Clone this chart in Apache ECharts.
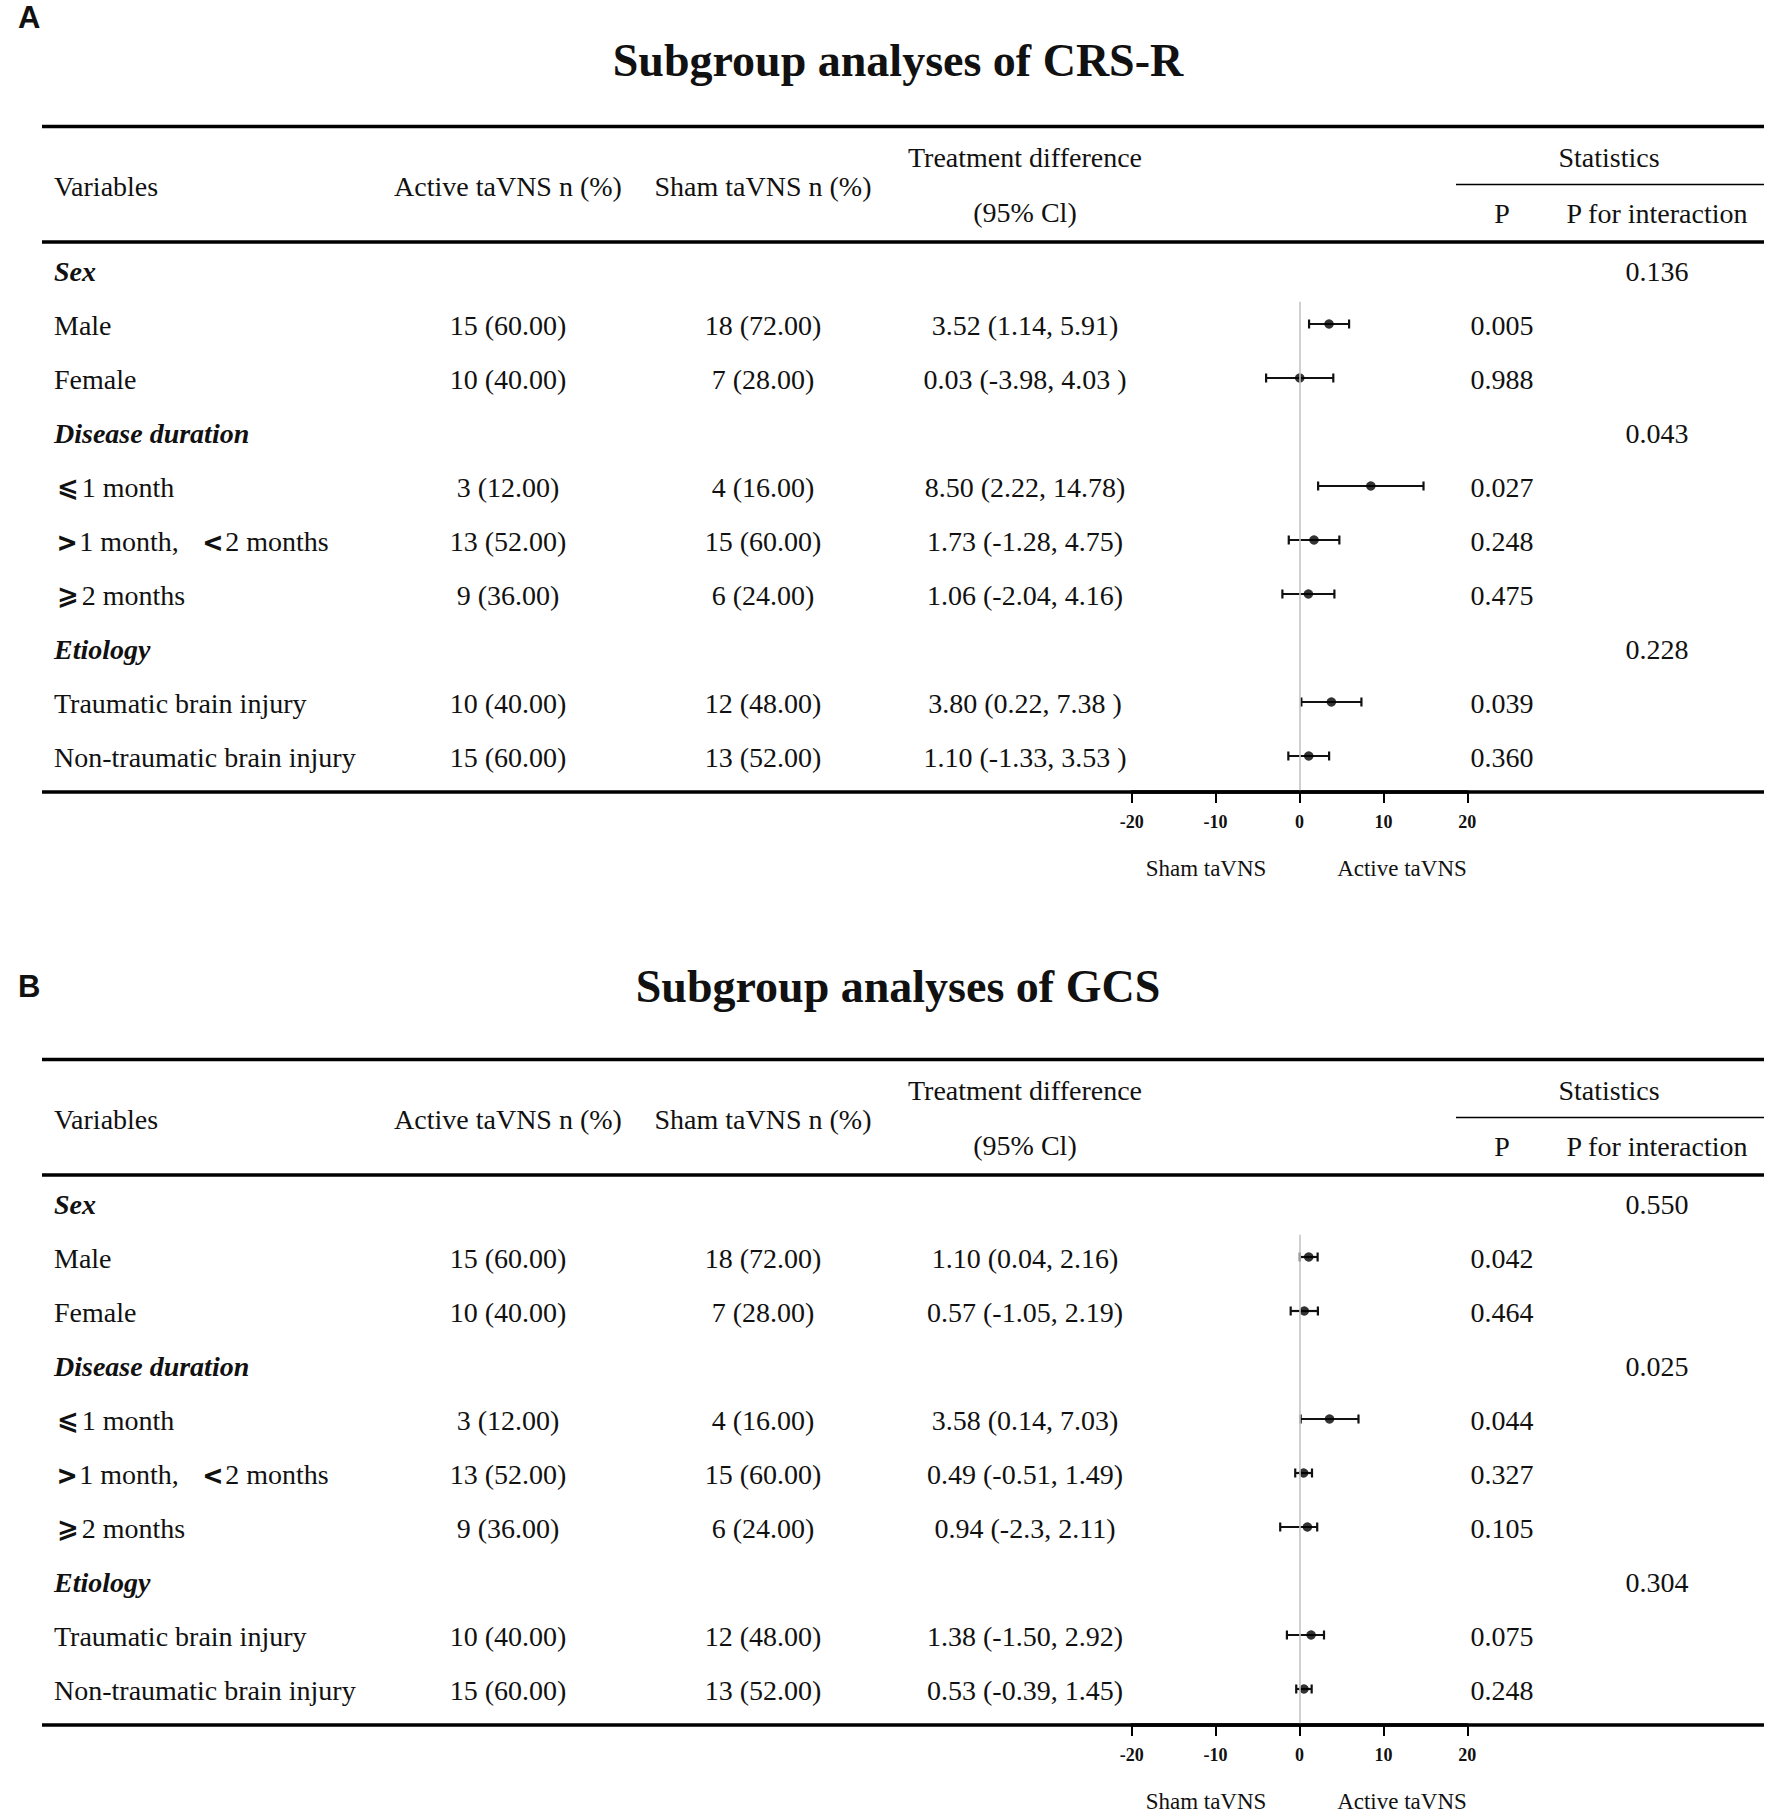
<!DOCTYPE html>
<html>
<head>
<meta charset="utf-8">
<script src="https://cdn.jsdelivr.net/npm/echarts@6/dist/echarts.min.js"></script>
<style>
html,body{margin:0;padding:0;background:#fff;}
#chart{width:1772px;height:1815px;}
</style>
</head>
<body>
<div id="chart"></div>
<script>
// ---------- DATA ----------
const rowLabels = ['Sex', 'Male', 'Female', 'Disease duration', '⩽1 month', '＞1 month，＜2 months', '⩾2 months', 'Etiology', 'Traumatic brain injury', 'Non-traumatic brain injury'];
const rowIsGroup = [true, false, false, true, false, false, false, true, false, false];
const activeN = ['', '15 (60.00)', '10 (40.00)', '', '3 (12.00)', '13 (52.00)', '9 (36.00)', '', '10 (40.00)', '15 (60.00)'];
const shamN = ['', '18 (72.00)', '7 (28.00)', '', '4 (16.00)', '15 (60.00)', '6 (24.00)', '', '12 (48.00)', '13 (52.00)'];

const crsEst = [null, 3.52, 0.03, null, 8.50, 1.73, 1.06, null, 3.80, 1.10];
const crsLow = [null, 1.14, -3.98, null, 2.22, -1.28, -2.04, null, 0.22, -1.33];
const crsHigh = [null, 5.91, 4.03, null, 14.78, 4.75, 4.16, null, 7.38, 3.53];
const crsDiffText = ['', '3.52 (1.14, 5.91)', '0.03 (-3.98, 4.03 )', '', '8.50 (2.22, 14.78)', '1.73 (-1.28, 4.75)', '1.06 (-2.04, 4.16)', '', '3.80 (0.22, 7.38 )', '1.10 (-1.33, 3.53 )'];
const crsP = ['', '0.005', '0.988', '', '0.027', '0.248', '0.475', '', '0.039', '0.360'];
const crsPint = ['0.136', '', '', '0.043', '', '', '', '0.228', '', ''];

const gcsEst = [null, 1.10, 0.57, null, 3.58, 0.49, 0.94, null, 1.38, 0.53];
const gcsLow = [null, 0.04, -1.05, null, 0.14, -0.51, -2.3, null, -1.50, -0.39];
const gcsHigh = [null, 2.16, 2.19, null, 7.03, 1.49, 2.11, null, 2.92, 1.45];
const gcsDiffText = ['', '1.10 (0.04, 2.16)', '0.57 (-1.05, 2.19)', '', '3.58 (0.14, 7.03)', '0.49 (-0.51, 1.49)', '0.94 (-2.3, 2.11)', '', '1.38 (-1.50, 2.92)', '0.53 (-0.39, 1.45)'];
const gcsP = ['', '0.042', '0.464', '', '0.044', '0.327', '0.105', '', '0.075', '0.248'];
const gcsPint = ['0.550', '', '', '0.025', '', '', '', '0.304', '', ''];

const panelTitles = ['Subgroup analyses of CRS-R', 'Subgroup analyses of GCS'];
const panelLetters = ['A', 'B'];
const axisTicks = [-20, -10, 0, 10, 20];
const sideLabels = ['Sham taVNS', 'Active taVNS'];

// ---------- LAYOUT ----------
const SERIF = '"Liberation Serif", "Times New Roman", "Noto Sans CJK SC", serif';
const F = 28;
const PANEL_DY = 933;
const COL = {label: 54, active: 508, sham: 763, diff: 1025, p: 1502, pint: 1657};
const TEXT_COLOR = '#111';
const ROW_TEXT_DY = 2;

function txtStyle(text, x, y, align, font) {
  return {
    text: text, x: x, y: y,
    font: font,
    fill: TEXT_COLOR,
    align: align, textAlign: align,
    verticalAlign: 'middle', textVerticalAlign: 'middle'
  };
}

function hline(x1, x2, y, w) {
  return {type: 'line', silent: true, z: 10, shape: {x1: x1, y1: y, x2: x2, y2: y},
    style: {stroke: '#000', lineWidth: w}};
}

function text(t, x, y, align, font) {
  return {type: 'text', silent: true, style: txtStyle(t, x, y, align, font)};
}

const graphics = [];
[0, 1].forEach(function (k) {
  const dy = k * PANEL_DY;
  const titleY = k === 0 ? 60 : 986;
  const letterY = k === 0 ? 17 : 986;
  graphics.push(text(panelLetters[k], 18, letterY, 'left', 'bold 31px "Liberation Sans Narrow", "Liberation Sans", Arial, sans-serif'));
  graphics.push(text(panelTitles[k], 898, titleY, 'center', 'bold 46px ' + SERIF));
  graphics.push(hline(42, 1764, 126.5 + dy, 3.5));
  graphics.push(hline(42, 1764, 242 + dy, 3.5));
  graphics.push(hline(1456, 1764, 184.5 + dy, 1.5));
  graphics.push(hline(42, 1764, 792 + dy, 3.5));
  const hf = F + 'px ' + SERIF;
  graphics.push(text('Variables', COL.label, 186 + dy, 'left', hf));
  graphics.push(text('Active taVNS n (%)', COL.active, 186 + dy, 'center', hf));
  graphics.push(text('Sham taVNS n (%)', COL.sham, 186 + dy, 'center', hf));
  graphics.push(text('Treatment difference', COL.diff, 157 + dy, 'center', hf));
  graphics.push(text('(95% Cl)', COL.diff, 212 + dy, 'center', hf));
  graphics.push(text('Statistics', 1609, 157 + dy, 'center', hf));
  graphics.push(text('P', COL.p, 213 + dy, 'center', hf));
  graphics.push(text('P for interaction', COL.pint, 213 + dy, 'center', hf));
  graphics.push(text(sideLabels[0], 1206, 868 + dy, 'center', '23px ' + SERIF));
  graphics.push(text(sideLabels[1], 1402, 868 + dy, 'center', '23px ' + SERIF));
});

const SYM_RICH = {
  s: {font: 'bold 31px "Noto Sans CJK SC", "DejaVu Sans", sans-serif', fill: TEXT_COLOR, padding: [0, 3, 0, 4]},
  m: {font: 'bold 26px "Noto Sans CJK SC", "DejaVu Sans", sans-serif', fill: TEXT_COLOR, padding: [0, 3, 7, 3]}
};

function tableSeries(idx, diffText, pArr, pintArr) {
  return {
    type: 'custom', xAxisIndex: idx, yAxisIndex: idx, clip: false, silent: true, z: 5,
    data: rowLabels.map(function (_, i) { return [0, i]; }),
    renderItem: function (params, api) {
      const i = params.dataIndex;
      const y = api.coord([0, i])[1] + ROW_TEXT_DY;
      const f = F + 'px ' + SERIF;
      const children = [];
      const add = function (t, x, align, font) {
        if (t) children.push({type: 'text', style: txtStyle(t, x, y, align, font)});
      };
      // row label: comparison symbols drawn in a heavier sans face, like the source
      const lbl = rowLabels[i]
        .replace(/[⩽⩾]/g, function (m) { return '{m|' + m + '}'; })
        .replace(/[＞＜]/g, function (m) { return '{s|' + (m === '＞' ? '>' : '<') + '}'; })
        .replace('，', ',   ');
      const ls = txtStyle(lbl, COL.label, y, 'left', rowIsGroup[i] ? 'italic bold ' + F + 'px ' + SERIF : f);
      ls.rich = SYM_RICH;
      children.push({type: 'text', style: ls});
      add(activeN[i], COL.active, 'center', f);
      add(shamN[i], COL.sham, 'center', f);
      add(diffText[i], COL.diff, 'center', f);
      add(pArr[i], COL.p, 'center', f);
      add(pintArr[i], COL.pint, 'center', f);
      return {type: 'group', children: children};
    }
  };
}

function errorSeries(idx, est, low, high) {
  const data = [];
  est.forEach(function (v, i) { if (v !== null) data.push([low[i], high[i], i]); });
  return {
    type: 'custom', xAxisIndex: idx, yAxisIndex: idx, silent: true, z: 3,
    encode: {x: [0, 1], y: 2},
    data: data,
    renderItem: function (params, api) {
      const a = api.coord([api.value(0), api.value(2)]);
      const b = api.coord([api.value(1), api.value(2)]);
      const h = 4.5;
      const st = {stroke: '#111', lineWidth: 2.2};
      return {type: 'group', children: [
        {type: 'line', shape: {x1: a[0], y1: a[1], x2: b[0], y2: b[1]}, style: st},
        {type: 'line', shape: {x1: a[0], y1: a[1] - h, x2: a[0], y2: a[1] + h}, style: st},
        {type: 'line', shape: {x1: b[0], y1: b[1] - h, x2: b[0], y2: b[1] + h}, style: st}
      ]};
    }
  };
}

function pointSeries(idx, est) {
  const data = [];
  est.forEach(function (v, i) { if (v !== null) data.push([v, i]); });
  return {
    type: 'scatter', xAxisIndex: idx, yAxisIndex: idx, silent: true, z: 4,
    symbol: 'circle', symbolSize: 9.5,
    itemStyle: {color: '#000'},
    data: data,
    markLine: {
      silent: true, symbol: 'none', label: {show: false},
      lineStyle: {color: '#c4c4c4', width: 1.6, type: 'solid'},
      data: [[{coord: [0, 0.59]}, {coord: [0, 9.6667]}]]
    }
  };
}

const grids = [0, 1].map(function (k) {
  return {left: 1131.7, right: 1772 - 1467.3, top: 243 + k * PANEL_DY, height: 549, containLabel: false};
});
const xAxes = [0, 1].map(function (k) {
  return {
    type: 'value', gridIndex: k, position: 'bottom',
    min: axisTicks[0], max: axisTicks[axisTicks.length - 1], interval: 10,
    axisLine: {show: true, onZero: false, lineStyle: {color: '#000', width: 3.5}},
    axisTick: {show: true, inside: false, length: 11, lineStyle: {color: '#000', width: 2}},
    splitLine: {show: false},
    axisLabel: {show: true, margin: 21, color: '#111', fontWeight: 'bold', fontSize: 18, fontFamily: SERIF}
  };
});
const yAxes = [0, 1].map(function (k) {
  return {type: 'value', gridIndex: k, inverse: true, min: -0.5, max: 9.6667, show: false};
});

const chart = echarts.init(document.getElementById('chart'), null, {renderer: 'svg'});
chart.setOption({
  backgroundColor: '#fff',
  animation: false,
  grid: grids,
  xAxis: xAxes,
  yAxis: yAxes,
  graphic: graphics,
  series: [
    tableSeries(0, crsDiffText, crsP, crsPint),
    errorSeries(0, crsEst, crsLow, crsHigh),
    pointSeries(0, crsEst),
    tableSeries(1, gcsDiffText, gcsP, gcsPint),
    errorSeries(1, gcsEst, gcsLow, gcsHigh),
    pointSeries(1, gcsEst)
  ]
});
</script>
</body>
</html>
